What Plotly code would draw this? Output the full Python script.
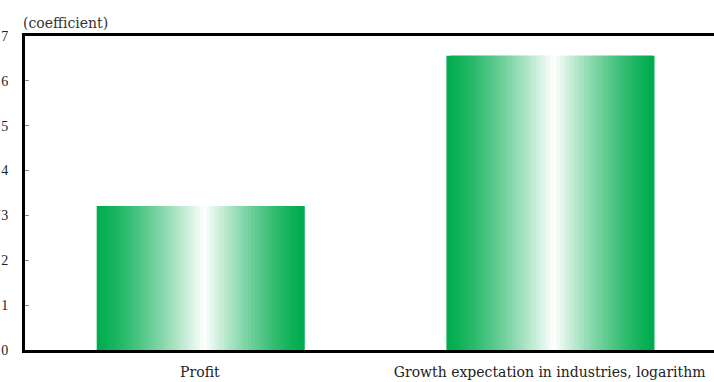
import plotly.graph_objects as go

categories = ["Profit", "Growth expectation in industries, logarithm"]
values = [3.21, 6.56]
y_ticks = [0, 1, 2, 3, 4, 5, 6, 7]
y_title = "(coefficient)"

GREEN = (0, 172, 78)
WHITE = (255, 255, 255)
N = 60
BAR_W = 0.59

def mix(t):
    r = [round(g + (w - g) * t) for g, w in zip(GREEN, WHITE)]
    return f"rgb({r[0]},{r[1]},{r[2]})"

fig = go.Figure()
sw = BAR_W / N
for i in range(N):
    u = (i + 0.5) / N
    center = 0.52
    d = abs(u - center) / (center if u < center else 1 - center)
    t = max(0.0, 1 - d) ** 1.3
    w = sw * 2.5 if i < N - 1 else sw
    fig.add_trace(go.Bar(
        x=categories, y=values,
        width=w, offset=-BAR_W / 2 + i * sw,
        marker=dict(color=mix(t), line=dict(width=0)),
        hoverinfo="skip", showlegend=False,
    ))

fig.update_layout(
    width=714, height=382,
    margin=dict(l=25, r=0, t=36, b=32),
    barmode="overlay",
    plot_bgcolor="white", paper_bgcolor="white",
    font=dict(family="DejaVu Serif", size=14, color="#222"),
    xaxis=dict(
        range=[-0.5, 1.47], showline=True, linecolor="black", linewidth=3,
        mirror=True, ticks="", showgrid=False, tickfont=dict(size=14),
        automargin=False, ticklabelstandoff=7,
    ),
    yaxis=dict(
        range=[0, 7], tickvals=y_ticks, showline=True, linecolor="black",
        linewidth=3, ticks="inside", ticklen=4, tickcolor="#888",
        showgrid=False, zeroline=False,
        tickfont=dict(family="Liberation Serif", size=14),
        automargin=False, ticklabelstandoff=11,
    ),
    annotations=[dict(
        text=y_title, xref="paper", yref="paper", x=-0.006, y=1.0,
        xanchor="left", yanchor="bottom", yshift=3, showarrow=False,
        font=dict(family="DejaVu Serif", size=14, color="#333"),
    )],
)

fig.write_html("out.html")
